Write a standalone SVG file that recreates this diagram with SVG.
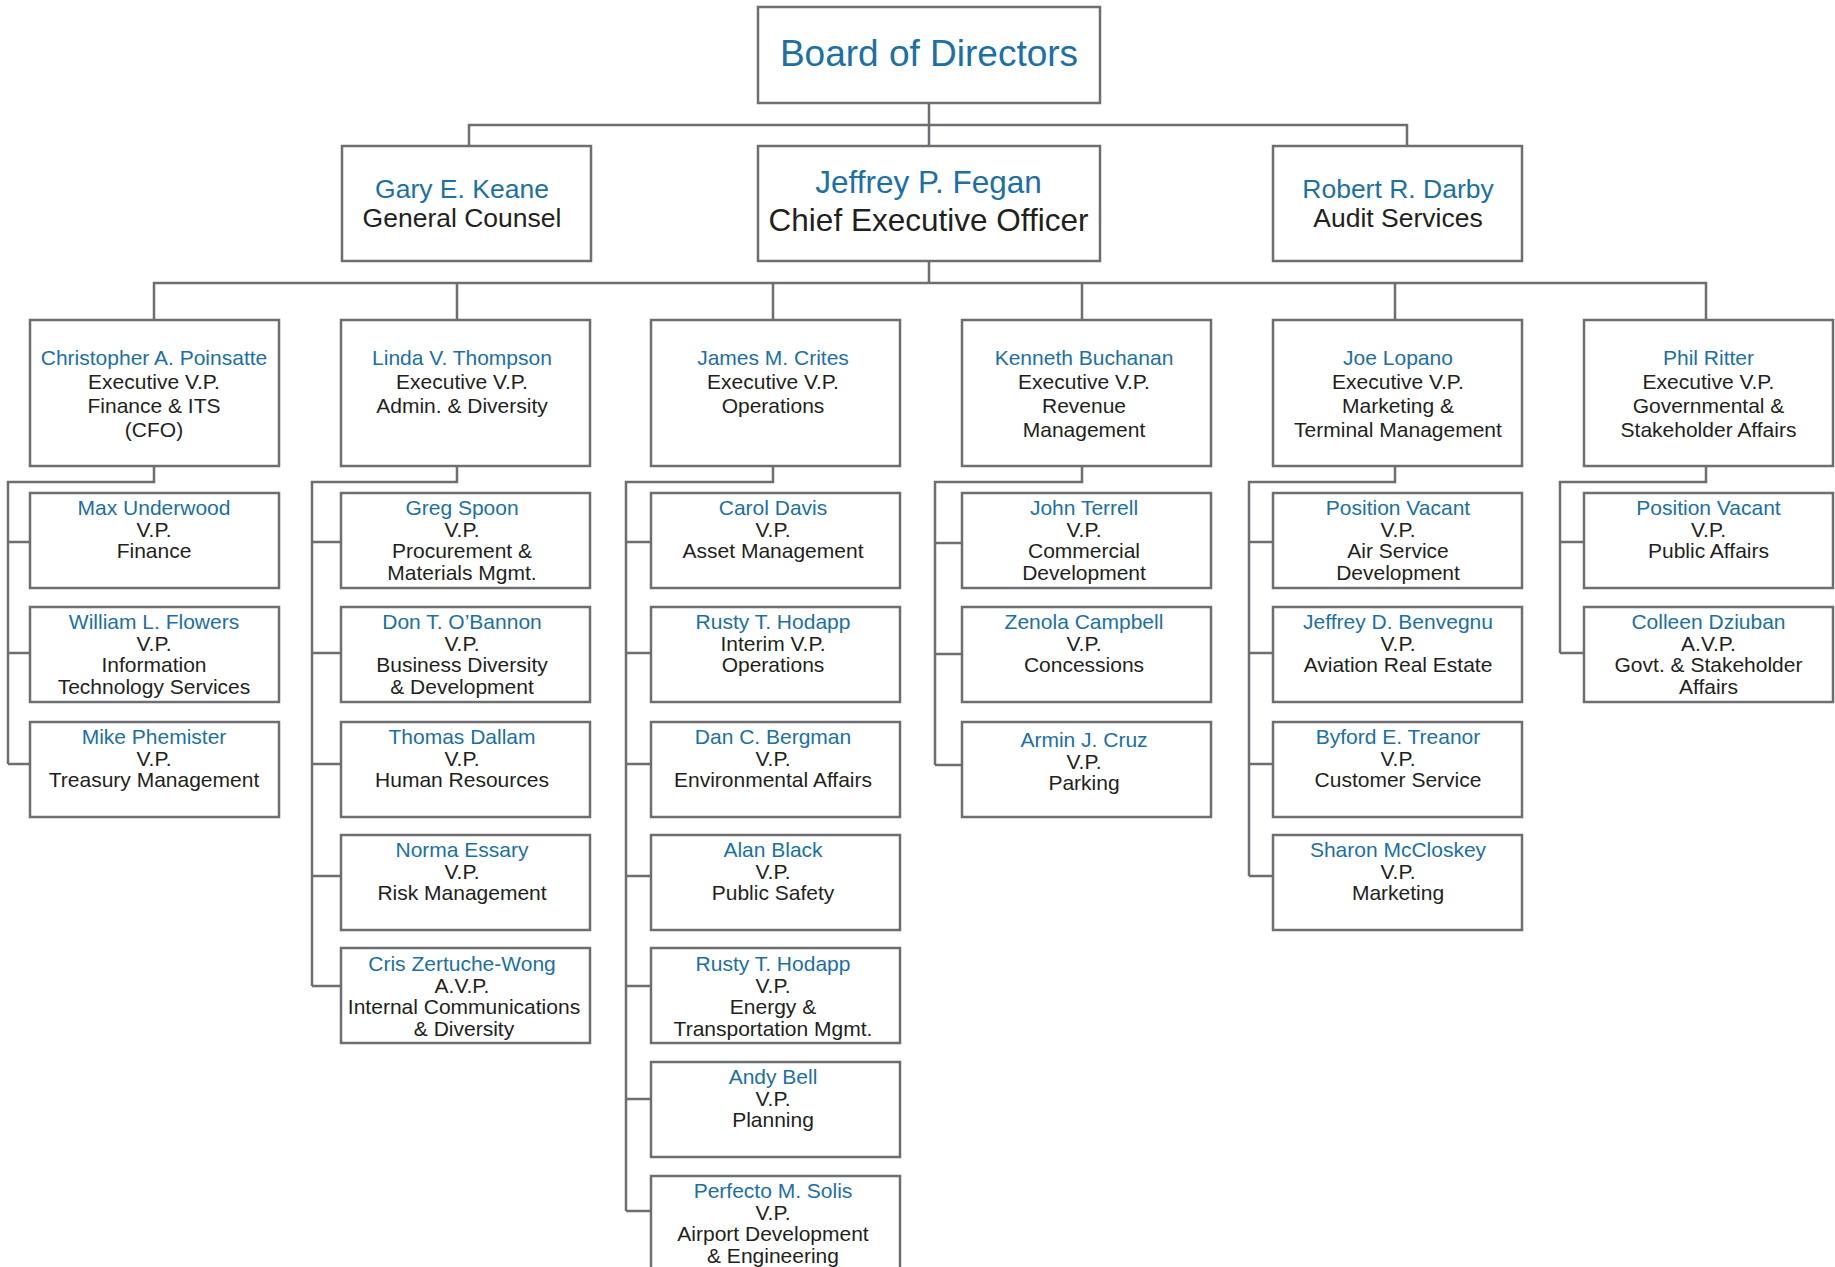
<svg xmlns="http://www.w3.org/2000/svg" width="1835" height="1267" viewBox="0 0 1835 1267">
<style>
.box{fill:#fff;stroke:#6d6e71;stroke-width:2.5}
.conn{fill:none;stroke:#6d6e71;stroke-width:2.5}
text{font-family:"Liberation Sans",Arial,Helvetica,sans-serif;text-anchor:middle;fill:#231f20}
.n{fill:#1a70a8}
.s{font-size:21px}
.e{font-size:21px}
</style>
<rect width="1835" height="1267" fill="#fff"/>
<g id="connectors" class="conn">
<path d="M929,103V146M469,146V125H1407V146M929,261V283M154,320V283H1706V320M457,283V320M773,283V320M1082,283V320M1395,283V320"/>
<path d="M154,466V482H8V764M8,542H30M8,653H30M8,764H30"/>
<path d="M457,466V482H312V986M312,542H341M312,653H341M312,764H341M312,876H341M312,986H341"/>
<path d="M773,466V482H626V1211M626,542H651M626,653H651M626,764H651M626,876H651M626,986H651M626,1099H651M626,1211H651"/>
<path d="M1082,466V482H935V765M935,543H962M935,654H962M935,765H962"/>
<path d="M1395,466V482H1249V876M1249,542H1273M1249,653H1273M1249,764H1273M1249,876H1273"/>
<path d="M1706,466V482H1560V653M1560,542H1584M1560,653H1584"/>
</g>
<g id="board"><rect class="box" x="758" y="7" width="342" height="96"/><text x="929" y="66" font-size="37" class="n">Board of Directors</text></g>
<g id="keane"><rect class="box" x="342" y="146" width="249" height="115"/><text font-size="26.5"><tspan class="n" x="462" y="198">Gary E. Keane</tspan><tspan x="462" y="227">General Counsel</tspan></text></g>
<g id="fegan"><rect class="box" x="758" y="146" width="342" height="115"/><text font-size="31.5"><tspan class="n" x="928.5" y="193">Jeffrey P. Fegan</tspan><tspan x="928.5" y="231">Chief Executive Officer</tspan></text></g>
<g id="darby"><rect class="box" x="1273" y="146" width="249" height="115"/><text font-size="26.5"><tspan class="n" x="1398" y="198">Robert R. Darby</tspan><tspan x="1398" y="227">Audit Services</tspan></text></g>

<g id="poinsatte"><rect class="box" x="30" y="320" width="249" height="146"/><text class="e"><tspan class="n" x="154" y="365">Christopher A. Poinsatte</tspan><tspan x="154" y="389">Executive V.P.</tspan><tspan x="154" y="413">Finance &amp; ITS</tspan><tspan x="154" y="437">(CFO)</tspan></text></g>
<g id="thompson"><rect class="box" x="341" y="320" width="249" height="146"/><text class="e"><tspan class="n" x="462" y="365">Linda V. Thompson</tspan><tspan x="462" y="389">Executive V.P.</tspan><tspan x="462" y="413">Admin. &amp; Diversity</tspan></text></g>
<g id="crites"><rect class="box" x="651" y="320" width="249" height="146"/><text class="e"><tspan class="n" x="773" y="365">James M. Crites</tspan><tspan x="773" y="389">Executive V.P.</tspan><tspan x="773" y="413">Operations</tspan></text></g>
<g id="buchanan"><rect class="box" x="962" y="320" width="249" height="146"/><text class="e"><tspan class="n" x="1084" y="365">Kenneth Buchanan</tspan><tspan x="1084" y="389">Executive V.P.</tspan><tspan x="1084" y="413">Revenue</tspan><tspan x="1084" y="437">Management</tspan></text></g>
<g id="lopano"><rect class="box" x="1273" y="320" width="249" height="146"/><text class="e"><tspan class="n" x="1398" y="365">Joe Lopano</tspan><tspan x="1398" y="389">Executive V.P.</tspan><tspan x="1398" y="413">Marketing &amp;</tspan><tspan x="1398" y="437">Terminal Management</tspan></text></g>
<g id="ritter"><rect class="box" x="1584" y="320" width="249" height="146"/><text class="e"><tspan class="n" x="1708.5" y="365">Phil Ritter</tspan><tspan x="1708.5" y="389">Executive V.P.</tspan><tspan x="1708.5" y="413">Governmental &amp;</tspan><tspan x="1708.5" y="437">Stakeholder Affairs</tspan></text></g>

<g id="underwood"><rect class="box" x="30" y="493" width="249" height="95"/><text class="s"><tspan class="n" x="154" y="515">Max Underwood</tspan><tspan x="154" y="536.5">V.P.</tspan><tspan x="154" y="558">Finance</tspan></text></g>
<g id="flowers"><rect class="box" x="30" y="607" width="249" height="95"/><text class="s"><tspan class="n" x="154" y="629">William L. Flowers</tspan><tspan x="154" y="650.5">V.P.</tspan><tspan x="154" y="672">Information</tspan><tspan x="154" y="693.5">Technology Services</tspan></text></g>
<g id="phemister"><rect class="box" x="30" y="722" width="249" height="95"/><text class="s"><tspan class="n" x="154" y="744">Mike Phemister</tspan><tspan x="154" y="765.5">V.P.</tspan><tspan x="154" y="787">Treasury Management</tspan></text></g>

<g id="spoon"><rect class="box" x="341" y="493" width="249" height="95"/><text class="s"><tspan class="n" x="462" y="515">Greg Spoon</tspan><tspan x="462" y="536.5">V.P.</tspan><tspan x="462" y="558">Procurement &amp;</tspan><tspan x="462" y="579.5">Materials Mgmt.</tspan></text></g>
<g id="obannon"><rect class="box" x="341" y="607" width="249" height="95"/><text class="s"><tspan class="n" x="462" y="629">Don T. O’Bannon</tspan><tspan x="462" y="650.5">V.P.</tspan><tspan x="462" y="672">Business Diversity</tspan><tspan x="462" y="693.5">&amp; Development</tspan></text></g>
<g id="dallam"><rect class="box" x="341" y="722" width="249" height="95"/><text class="s"><tspan class="n" x="462" y="744">Thomas Dallam</tspan><tspan x="462" y="765.5">V.P.</tspan><tspan x="462" y="787">Human Resources</tspan></text></g>
<g id="essary"><rect class="box" x="341" y="835" width="249" height="95"/><text class="s"><tspan class="n" x="462" y="857">Norma Essary</tspan><tspan x="462" y="878.5">V.P.</tspan><tspan x="462" y="900">Risk Management</tspan></text></g>
<g id="zertuche-wong"><rect class="box" x="341" y="948" width="249" height="95"/><text class="s"><tspan class="n" x="462" y="971">Cris Zertuche-Wong</tspan><tspan x="462" y="992.5">A.V.P.</tspan><tspan x="464" y="1014">Internal Communications</tspan><tspan x="464" y="1035.5">&amp; Diversity</tspan></text></g>

<g id="davis"><rect class="box" x="651" y="493" width="249" height="95"/><text class="s"><tspan class="n" x="773" y="515">Carol Davis</tspan><tspan x="773" y="536.5">V.P.</tspan><tspan x="773" y="558">Asset Management</tspan></text></g>
<g id="hodapp-ops"><rect class="box" x="651" y="607" width="249" height="95"/><text class="s"><tspan class="n" x="773" y="629">Rusty T. Hodapp</tspan><tspan x="773" y="650.5">Interim V.P.</tspan><tspan x="773" y="672">Operations</tspan></text></g>
<g id="bergman"><rect class="box" x="651" y="722" width="249" height="95"/><text class="s"><tspan class="n" x="773" y="744">Dan C. Bergman</tspan><tspan x="773" y="765.5">V.P.</tspan><tspan x="773" y="787">Environmental Affairs</tspan></text></g>
<g id="black"><rect class="box" x="651" y="835" width="249" height="95"/><text class="s"><tspan class="n" x="773" y="857">Alan Black</tspan><tspan x="773" y="878.5">V.P.</tspan><tspan x="773" y="900">Public Safety</tspan></text></g>
<g id="hodapp-energy"><rect class="box" x="651" y="948" width="249" height="95"/><text class="s"><tspan class="n" x="773" y="971">Rusty T. Hodapp</tspan><tspan x="773" y="992.5">V.P.</tspan><tspan x="773" y="1014">Energy &amp;</tspan><tspan x="773" y="1035.5">Transportation Mgmt.</tspan></text></g>
<g id="bell"><rect class="box" x="651" y="1062" width="249" height="95"/><text class="s"><tspan class="n" x="773" y="1084">Andy Bell</tspan><tspan x="773" y="1105.5">V.P.</tspan><tspan x="773" y="1127">Planning</tspan></text></g>
<g id="solis"><rect class="box" x="651" y="1176" width="249" height="95"/><text class="s"><tspan class="n" x="773" y="1198">Perfecto M. Solis</tspan><tspan x="773" y="1219.5">V.P.</tspan><tspan x="773" y="1241">Airport Development</tspan><tspan x="773" y="1262.5">&amp; Engineering</tspan></text></g>

<g id="terrell"><rect class="box" x="962" y="493" width="249" height="95"/><text class="s"><tspan class="n" x="1084" y="515">John Terrell</tspan><tspan x="1084" y="536.5">V.P.</tspan><tspan x="1084" y="558">Commercial</tspan><tspan x="1084" y="579.5">Development</tspan></text></g>
<g id="campbell"><rect class="box" x="962" y="607" width="249" height="95"/><text class="s"><tspan class="n" x="1084" y="629">Zenola Campbell</tspan><tspan x="1084" y="650.5">V.P.</tspan><tspan x="1084" y="672">Concessions</tspan></text></g>
<g id="cruz"><rect class="box" x="962" y="722" width="249" height="95"/><text class="s"><tspan class="n" x="1084" y="747">Armin J. Cruz</tspan><tspan x="1084" y="768.5">V.P.</tspan><tspan x="1084" y="790">Parking</tspan></text></g>

<g id="vacant-air"><rect class="box" x="1273" y="493" width="249" height="95"/><text class="s"><tspan class="n" x="1398" y="515">Position Vacant</tspan><tspan x="1398" y="536.5">V.P.</tspan><tspan x="1398" y="558">Air Service</tspan><tspan x="1398" y="579.5">Development</tspan></text></g>
<g id="benvegnu"><rect class="box" x="1273" y="607" width="249" height="95"/><text class="s"><tspan class="n" x="1398" y="629">Jeffrey D. Benvegnu</tspan><tspan x="1398" y="650.5">V.P.</tspan><tspan x="1398" y="672">Aviation Real Estate</tspan></text></g>
<g id="treanor"><rect class="box" x="1273" y="722" width="249" height="95"/><text class="s"><tspan class="n" x="1398" y="744">Byford E. Treanor</tspan><tspan x="1398" y="765.5">V.P.</tspan><tspan x="1398" y="787">Customer Service</tspan></text></g>
<g id="mccloskey"><rect class="box" x="1273" y="835" width="249" height="95"/><text class="s"><tspan class="n" x="1398" y="857">Sharon McCloskey</tspan><tspan x="1398" y="878.5">V.P.</tspan><tspan x="1398" y="900">Marketing</tspan></text></g>

<g id="vacant-public"><rect class="box" x="1584" y="493" width="249" height="95"/><text class="s"><tspan class="n" x="1708.5" y="515">Position Vacant</tspan><tspan x="1708.5" y="536.5">V.P.</tspan><tspan x="1708.5" y="558">Public Affairs</tspan></text></g>
<g id="dziuban"><rect class="box" x="1584" y="607" width="249" height="95"/><text class="s"><tspan class="n" x="1708.5" y="629">Colleen Dziuban</tspan><tspan x="1708.5" y="650.5">A.V.P.</tspan><tspan x="1708.5" y="672">Govt. &amp; Stakeholder</tspan><tspan x="1708.5" y="693.5">Affairs</tspan></text></g>
</svg>
